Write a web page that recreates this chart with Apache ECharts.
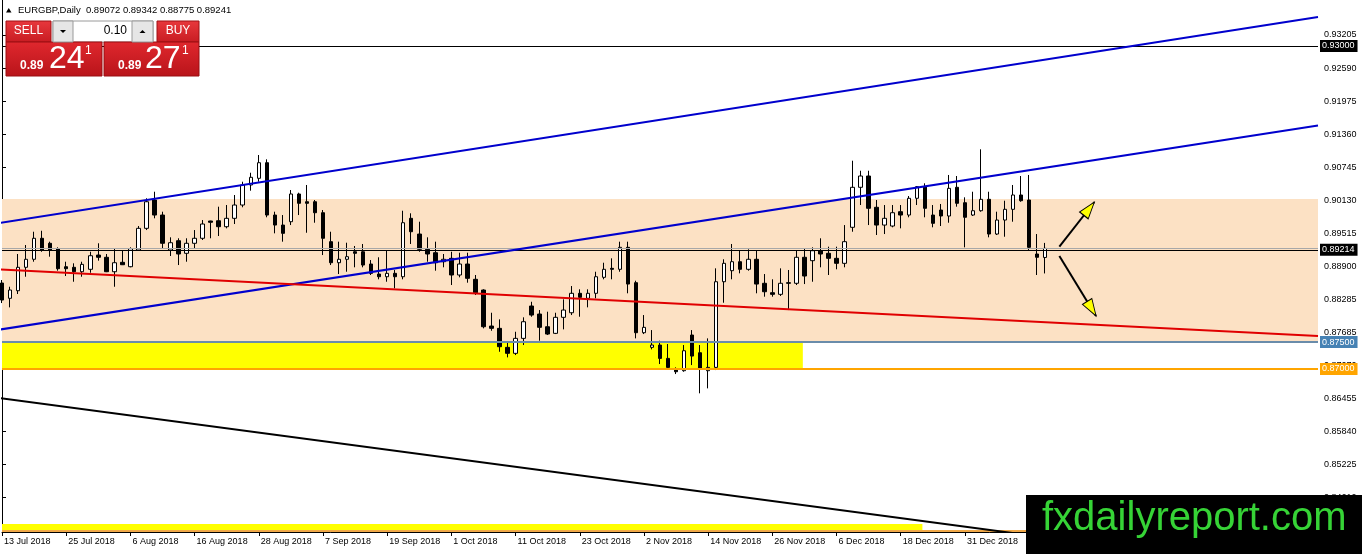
<!DOCTYPE html>
<html><head><meta charset="utf-8">
<script src="https://cdn.jsdelivr.net/npm/echarts@6/dist/echarts.min.js"></script>
<style>html,body{margin:0;padding:0;background:#fff}#c{width:1362px;height:554px}</style>
</head><body><div id="c"></div>
<script>
const dates = [
"13 Jul 2018","16 Jul 2018","17 Jul 2018","18 Jul 2018","19 Jul 2018","20 Jul 2018","23 Jul 2018","24 Jul 2018","25 Jul 2018","26 Jul 2018","27 Jul 2018","30 Jul 2018","31 Jul 2018",
"1 Aug 2018","2 Aug 2018","3 Aug 2018","6 Aug 2018","7 Aug 2018","8 Aug 2018","9 Aug 2018","10 Aug 2018","13 Aug 2018","14 Aug 2018","15 Aug 2018","16 Aug 2018","17 Aug 2018","20 Aug 2018","21 Aug 2018","22 Aug 2018","23 Aug 2018","24 Aug 2018","27 Aug 2018","28 Aug 2018","29 Aug 2018","30 Aug 2018","31 Aug 2018",
"3 Sep 2018","4 Sep 2018","5 Sep 2018","6 Sep 2018","7 Sep 2018","10 Sep 2018","11 Sep 2018","12 Sep 2018","13 Sep 2018","14 Sep 2018","17 Sep 2018","18 Sep 2018","19 Sep 2018","20 Sep 2018","21 Sep 2018","24 Sep 2018","25 Sep 2018","26 Sep 2018","27 Sep 2018","28 Sep 2018",
"1 Oct 2018","2 Oct 2018","3 Oct 2018","4 Oct 2018","5 Oct 2018","8 Oct 2018","9 Oct 2018","10 Oct 2018","11 Oct 2018","12 Oct 2018","15 Oct 2018","16 Oct 2018","17 Oct 2018","18 Oct 2018","19 Oct 2018","22 Oct 2018","23 Oct 2018","24 Oct 2018","25 Oct 2018","26 Oct 2018","29 Oct 2018","30 Oct 2018","31 Oct 2018",
"1 Nov 2018","2 Nov 2018","5 Nov 2018","6 Nov 2018","7 Nov 2018","8 Nov 2018","9 Nov 2018","12 Nov 2018","13 Nov 2018","14 Nov 2018","15 Nov 2018","16 Nov 2018","19 Nov 2018","20 Nov 2018","21 Nov 2018","22 Nov 2018","23 Nov 2018","26 Nov 2018","27 Nov 2018","28 Nov 2018","29 Nov 2018","30 Nov 2018",
"3 Dec 2018","4 Dec 2018","5 Dec 2018","6 Dec 2018","7 Dec 2018","10 Dec 2018","11 Dec 2018","12 Dec 2018","13 Dec 2018","14 Dec 2018","17 Dec 2018","18 Dec 2018","19 Dec 2018","20 Dec 2018","21 Dec 2018","24 Dec 2018","26 Dec 2018","27 Dec 2018","28 Dec 2018","31 Dec 2018",
"2 Jan 2019","3 Jan 2019","4 Jan 2019","7 Jan 2019","8 Jan 2019","9 Jan 2019","10 Jan 2019","11 Jan 2019","14 Jan 2019","15 Jan 2019"
];
const opens = [
0.88597,0.88313,0.88454,0.88889,0.89038,0.89428,0.89335,0.89234,0.88900,0.88889,
0.88807,0.88852,0.89117,0.89075,0.88807,0.88982,0.88900,0.89210,0.89613,0.90139,
0.89860,0.89210,0.89383,0.89149,0.89335,0.89428,0.89749,0.89754,0.89643,0.89799,
0.90046,0.90418,0.90542,0.90832,0.89860,0.89674,0.89736,0.90251,0.90107,0.90107,
0.89903,0.89365,0.88974,0.89038,0.89178,0.89178,0.88950,0.88764,0.88714,0.88777,
0.88714,0.89799,0.89507,0.89223,0.89160,0.88993,0.89056,0.88746,0.88950,0.88666,
0.88467,0.87798,0.87755,0.87402,0.87291,0.87569,0.88170,0.88021,0.87785,0.87662,
0.87960,0.88045,0.88406,0.88313,0.88406,0.88703,0.88870,0.88852,0.89260,0.88603,
0.87674,0.87402,0.87445,0.87197,0.86980,0.86968,0.87631,0.87302,0.86968,0.87030,
0.88621,0.88826,0.88993,0.88852,0.89038,0.88592,0.88417,0.88387,0.88603,0.88592,
0.89075,0.89012,0.89197,0.89149,0.89056,0.88963,0.89632,0.90375,0.90585,0.90004,
0.89674,0.89656,0.89922,0.89860,0.90171,0.90386,0.89860,0.89953,0.89842,0.90375,
0.90089,0.89860,0.89940,0.90152,0.89507,0.89767,0.89966,0.90232,0.90139,0.89136,
0.89072
];
const highs = [
0.88653,0.88528,0.89136,0.89303,0.89550,0.89568,0.89365,0.89260,0.88993,0.88963,
0.88993,0.89178,0.89335,0.89136,0.89242,0.89210,0.89260,0.89656,0.90171,0.90293,
0.89922,0.89446,0.89428,0.89428,0.89581,0.89767,0.89754,0.90015,0.90046,0.90232,
0.90479,0.90646,0.90975,0.90895,0.89922,0.89860,0.90325,0.90275,0.90418,0.90139,
0.89953,0.89550,0.89365,0.89346,0.89285,0.89322,0.89024,0.89075,0.89197,0.88839,
0.89940,0.89892,0.89736,0.89446,0.89365,0.89136,0.89178,0.89160,0.89160,0.88746,
0.88480,0.88045,0.87922,0.87507,0.87692,0.87960,0.88249,0.88095,0.88064,0.88045,
0.88294,0.88541,0.88480,0.88480,0.88807,0.88974,0.89056,0.89365,0.89365,0.88640,
0.88002,0.87723,0.87525,0.87464,0.87030,0.87445,0.87723,0.87445,0.87569,0.88870,
0.89038,0.89322,0.89197,0.89223,0.89197,0.88764,0.88666,0.88870,0.88839,0.89197,
0.89242,0.89260,0.89428,0.89272,0.89272,0.89674,0.90869,0.90683,0.90683,0.90139,
0.90046,0.90046,0.90046,0.90213,0.90399,0.90449,0.90046,0.90065,0.90604,0.90585,
0.90189,0.90293,0.91081,0.90293,0.89922,0.90126,0.90418,0.90585,0.90604,0.89507,
0.89342
];
const lows = [
0.88225,0.88145,0.88393,0.88714,0.88993,0.89178,0.89086,0.88826,0.88727,0.88621,
0.88714,0.88788,0.89012,0.88800,0.88528,0.88931,0.88889,0.89205,0.89581,0.89799,
0.89242,0.89099,0.88931,0.88993,0.89242,0.89396,0.89428,0.89470,0.89613,0.89693,
0.90004,0.90312,0.90479,0.89818,0.89520,0.89365,0.89674,0.89860,0.89531,0.89717,
0.89117,0.88931,0.88764,0.88807,0.88889,0.88889,0.88746,0.88666,0.88621,0.88498,
0.88666,0.89322,0.89178,0.88993,0.88826,0.88889,0.88560,0.88703,0.88603,0.88374,
0.87755,0.87710,0.87320,0.87216,0.87259,0.87445,0.87971,0.87525,0.87631,0.87649,
0.87736,0.88002,0.87971,0.88145,0.88313,0.88666,0.88666,0.88807,0.88406,0.87569,
0.87649,0.87365,0.87092,0.87025,0.86906,0.86949,0.87073,0.86548,0.86640,0.86980,
0.88231,0.88666,0.88777,0.88826,0.88406,0.88343,0.88343,0.88356,0.88095,0.88560,
0.88578,0.88621,0.88889,0.88746,0.88852,0.88889,0.89550,0.90046,0.89674,0.89489,
0.89507,0.89632,0.89613,0.89818,0.90046,0.89818,0.89632,0.89656,0.89717,0.90015,
0.89260,0.89842,0.89922,0.89446,0.89489,0.89457,0.89736,0.90107,0.89210,0.88746,
0.88775
];
const closes = [
0.88281,0.88467,0.88889,0.89038,0.89428,0.89210,0.89210,0.88863,0.88863,0.88807,
0.88944,0.89104,0.89075,0.88807,0.88974,0.88937,0.89234,0.89613,0.90107,0.89860,
0.89335,0.89346,0.89136,0.89335,0.89428,0.89693,0.89725,0.89643,0.89799,0.90046,
0.90418,0.90561,0.90832,0.89860,0.89674,0.89520,0.90251,0.90078,0.90078,0.89903,
0.89428,0.88974,0.89038,0.89086,0.89149,0.88931,0.88777,0.88714,0.88777,0.88714,
0.89717,0.89550,0.89223,0.89136,0.88974,0.89038,0.88746,0.88950,0.88684,0.88417,
0.87785,0.87755,0.87414,0.87291,0.87569,0.87878,0.88002,0.87774,0.87649,0.87960,
0.88095,0.88406,0.88331,0.88406,0.88714,0.88852,0.88852,0.89260,0.88578,0.87674,
0.87774,0.87445,0.87197,0.87030,0.86949,0.87339,0.87240,0.87012,0.87030,0.88621,
0.88963,0.88993,0.88852,0.89038,0.88578,0.88435,0.88387,0.88592,0.88592,0.89075,
0.88727,0.89197,0.89136,0.89056,0.88963,0.89365,0.90375,0.90585,0.89985,0.89674,
0.89799,0.89903,0.89860,0.90171,0.90386,0.89985,0.89706,0.89842,0.90356,0.90078,
0.89818,0.89940,0.90152,0.89507,0.89767,0.89966,0.90232,0.90126,0.89260,0.89075,
0.89241
];
const yTickLabels = [0.84610,0.85225,0.85840,0.86455,0.87070,0.87685,0.88285,0.88900,0.89515,0.90130,0.90745,0.91360,0.91975,0.92590,0.93205];

const levelRound = 0.93000;
const levelBid = 0.89214;
const levelLastClose = 0.89241;
const levelSupportTop = 0.87500;
const levelSupportBottom = 0.87000;
const levelLow = 0.84000;

const resistanceZone = [0.87500, 0.90160];
const supportZone = [0.87000, 0.87500];
const supportZoneEndBar = 99.8;
const lowerZone = [0.84000, 0.84120];
const lowerZoneEndBar = 114.7;

const channelUpper = [[-0.25, 0.89712], [164, 0.93539]];
const channelMiddle = [[-0.25, 0.87733], [164, 0.91523]];
const redTrend = [[-0.25, 0.88851], [164, 0.87612]];
const blackTrend = [[-0.25, 0.86460], [164, 0.83197]];
const arrowUp = [[131.77, 0.89272], [136.13, 0.90102]];
const arrowDown = [[131.77, 0.89099], [136.34, 0.87984]];
const arrowHeads = [[135.48, 0.89978], [135.79, 0.88120]];

const TOTAL_SLOTS = 165;
const Y_MIN = 0.83972, Y_MAX = 0.938545;
const FONT = 'Liberation Sans, Arial, sans-serif';

const categories = dates.concat(new Array(TOTAL_SLOTS - dates.length).fill(''));
const ohlc = dates.map((d, i) => [opens[i], closes[i], lows[i], highs[i]]);
const last = dates.length - 1;
const headerText = 'EURGBP,Daily  ' + [opens[last], highs[last], lows[last], closes[last]].map(v => v.toFixed(5)).join(' ');

function levelLabel(value, bg) {
  return {show: true, position: 'end', distance: 2, formatter: value.toFixed(5),
    color: '#fff', backgroundColor: bg, padding: [2, 3, 1, 2], fontSize: 9, fontFamily: FONT};
}
const redGrad = {type: 'linear', x: 0, y: 0, x2: 0, y2: 1, colorStops: [{offset: 0, color: '#E0282E'}, {offset: 1, color: '#B8141A'}]};
const btnGrad = {type: 'linear', x: 0, y: 0, x2: 0, y2: 1, colorStops: [{offset: 0, color: '#E8383D'}, {offset: 1, color: '#C81C22'}]};

const chart = echarts.init(document.getElementById('c'), null, {renderer: 'canvas'});
chart.setOption({
  animation: false,
  backgroundColor: '#ffffff',
  grid: {left: 2, right: 44, top: 0, bottom: 22},
  xAxis: [{
    type: 'category', data: categories, boundaryGap: false,
    axisLine: {show: true, onZero: false, lineStyle: {color: '#000', width: 1}},
    axisTick: {show: true, interval: 7, length: 4, lineStyle: {color: '#000'}},
    axisLabel: {show: true, interval: 7, align: 'left', margin: 5, padding: [0, 0, 0, 2], fontSize: 9, fontFamily: FONT, color: '#000'},
    splitLine: {show: false}
  }, {
    type: 'value', min: 0, max: TOTAL_SLOTS - 1, show: false
  }],
  yAxis: [{
    type: 'value', position: 'right', min: Y_MIN, max: Y_MAX,
    axisLine: {show: true, lineStyle: {color: '#000', width: 1}},
    axisTick: {show: true, length: 4, customValues: yTickLabels, lineStyle: {color: '#000'}},
    axisLabel: {show: true, customValues: yTickLabels, formatter: v => v.toFixed(5), fontSize: 9, fontFamily: FONT, color: '#000', margin: 6},
    splitLine: {show: false}
  }, {
    type: 'value', position: 'left', min: Y_MIN, max: Y_MAX,
    axisLine: {show: true, lineStyle: {color: '#000', width: 1}},
    axisTick: {show: false}, axisLabel: {show: false}, splitLine: {show: false}
  }],
  series: [
    {name: 'zones', type: 'line', xAxisIndex: 1, yAxisIndex: 0, data: [], z: 1, silent: true,
      markArea: {silent: true, data: [
        [{yAxis: resistanceZone[0], itemStyle: {color: '#FCE1C4', opacity: 1}}, {yAxis: resistanceZone[1]}],
        [{xAxis: 0, yAxis: supportZone[0], itemStyle: {color: '#FFFF00', opacity: 1}}, {xAxis: supportZoneEndBar, yAxis: supportZone[1]}],
        [{xAxis: 0, yAxis: lowerZone[0], itemStyle: {color: '#FFFF00', opacity: 1}}, {xAxis: lowerZoneEndBar, yAxis: lowerZone[1]}]
      ]}},
    {name: 'EURGBP', type: 'candlestick', xAxisIndex: 0, yAxisIndex: 0, data: ohlc, barWidth: 4, z: 3,
      itemStyle: {color: '#ffffff', color0: '#000000', borderColor: '#000000', borderColor0: '#000000', borderWidth: 1}},
    {name: 'levels', type: 'line', xAxisIndex: 1, yAxisIndex: 0, data: [], z: 4, silent: true,
      markLine: {silent: true, precision: 5, symbol: ['none', 'none'], animation: false, data: [
        {yAxis: levelRound, lineStyle: {color: '#000', width: 1, type: 'solid'}, label: levelLabel(levelRound, '#000')},
        {yAxis: levelLastClose, lineStyle: {color: '#A8A8A8', width: 1, type: 'solid'}, label: {show: false}},
        {yAxis: levelBid, lineStyle: {color: '#000', width: 1, type: 'solid'}, label: levelLabel(levelBid, '#000')},
        {yAxis: levelSupportTop, lineStyle: {color: '#6A8CAA', width: 2, type: 'solid'}, label: levelLabel(levelSupportTop, '#4682B4')},
        {yAxis: levelSupportBottom, lineStyle: {color: '#FFA500', width: 2, type: 'solid'}, label: levelLabel(levelSupportBottom, '#FFA500')},
        {yAxis: levelLow, lineStyle: {color: '#F0A848', width: 2, type: 'solid'}, label: {show: false}}
      ]}},
    {name: 'channelUpper', type: 'line', xAxisIndex: 1, yAxisIndex: 0, data: channelUpper, symbol: 'none', z: 5, silent: true, lineStyle: {color: '#0000CD', width: 2}},
    {name: 'channelMiddle', type: 'line', xAxisIndex: 1, yAxisIndex: 0, data: channelMiddle, symbol: 'none', z: 5, silent: true, lineStyle: {color: '#0000CD', width: 2}},
    {name: 'redTrend', type: 'line', xAxisIndex: 1, yAxisIndex: 0, data: redTrend, symbol: 'none', z: 5, silent: true, lineStyle: {color: '#E00000', width: 2}},
    {name: 'blackTrend', type: 'line', xAxisIndex: 1, yAxisIndex: 0, data: blackTrend, symbol: 'none', z: 5, silent: true, lineStyle: {color: '#000000', width: 2}},
    {name: 'arrowUp', type: 'line', xAxisIndex: 1, yAxisIndex: 0, data: arrowUp, symbol: 'none', z: 6, silent: true, lineStyle: {color: '#000000', width: 2}},
    {name: 'arrowDown', type: 'line', xAxisIndex: 1, yAxisIndex: 0, data: arrowDown, symbol: 'none', z: 6, silent: true, lineStyle: {color: '#000000', width: 2}},
    {name: 'arrowHeads', type: 'scatter', xAxisIndex: 1, yAxisIndex: 0, z: 7, silent: true,
      symbol: 'triangle', symbolSize: [11, 17],
      data: [{value: arrowHeads[0], symbolRotate: -38}, {value: arrowHeads[1], symbolRotate: -148.5}],
      itemStyle: {color: '#FFFF00', borderColor: '#000', borderWidth: 1, opacity: 1}}
  ],
  graphic: [
    {type: 'polygon', z: 100, shape: {points: [[6, 12.5], [11.5, 12.5], [8.75, 8]]}, style: {fill: '#000'}},
    {type: 'text', z: 100, x: 18, y: 10, style: {text: headerText, fill: '#000', font: '9.5px ' + FONT, verticalAlign: 'middle', textVerticalAlign: 'middle'}},
    {type: 'rect', z: 100, shape: {x: 6, y: 21, width: 45, height: 21}, style: {fill: btnGrad, stroke: '#A01015', lineWidth: 1}},
    {type: 'text', z: 101, x: 28.5, y: 31, style: {text: 'SELL', fill: '#fff', font: '12px ' + FONT, align: 'center', textAlign: 'center', verticalAlign: 'middle', textVerticalAlign: 'middle'}},
    {type: 'rect', z: 100, shape: {x: 53, y: 21, width: 100, height: 21}, style: {fill: '#fff', stroke: '#9A9A9A', lineWidth: 1}},
    {type: 'rect', z: 101, shape: {x: 53, y: 21, width: 20, height: 21}, style: {fill: '#E6E6E6', stroke: '#9A9A9A', lineWidth: 1}},
    {type: 'rect', z: 101, shape: {x: 132, y: 21, width: 21, height: 21}, style: {fill: '#E6E6E6', stroke: '#9A9A9A', lineWidth: 1}},
    {type: 'polygon', z: 102, shape: {points: [[60, 30], [66, 30], [63, 33]]}, style: {fill: '#000'}},
    {type: 'polygon', z: 102, shape: {points: [[139.5, 33], [145.5, 33], [142.5, 30]]}, style: {fill: '#000'}},
    {type: 'text', z: 101, x: 127, y: 30.5, style: {text: '0.10', fill: '#000', font: '12px ' + FONT, align: 'right', textAlign: 'right', verticalAlign: 'middle', textVerticalAlign: 'middle'}},
    {type: 'rect', z: 100, shape: {x: 157, y: 21, width: 42, height: 21}, style: {fill: btnGrad, stroke: '#A01015', lineWidth: 1}},
    {type: 'text', z: 101, x: 178, y: 31, style: {text: 'BUY', fill: '#fff', font: '12px ' + FONT, align: 'center', textAlign: 'center', verticalAlign: 'middle', textVerticalAlign: 'middle'}},
    {type: 'rect', z: 100, shape: {x: 6, y: 42, width: 96, height: 34}, style: {fill: redGrad, stroke: '#9A0E12', lineWidth: 1}},
    {type: 'rect', z: 100, shape: {x: 104, y: 42, width: 95, height: 34}, style: {fill: redGrad, stroke: '#9A0E12', lineWidth: 1}},
    {type: 'text', z: 101, x: 20, y: 66, style: {text: '0.89', fill: '#fff', font: 'bold 12px ' + FONT, verticalAlign: 'middle', textVerticalAlign: 'middle'}},
    {type: 'text', z: 101, x: 49, y: 59, style: {text: '24', fill: '#fff', font: '32px ' + FONT, verticalAlign: 'middle', textVerticalAlign: 'middle'}},
    {type: 'text', z: 101, x: 85, y: 51, style: {text: '1', fill: '#fff', font: '12px ' + FONT, verticalAlign: 'middle', textVerticalAlign: 'middle'}},
    {type: 'text', z: 101, x: 118, y: 66, style: {text: '0.89', fill: '#fff', font: 'bold 12px ' + FONT, verticalAlign: 'middle', textVerticalAlign: 'middle'}},
    {type: 'text', z: 101, x: 145, y: 59, style: {text: '27', fill: '#fff', font: '32px ' + FONT, verticalAlign: 'middle', textVerticalAlign: 'middle'}},
    {type: 'text', z: 101, x: 182, y: 51, style: {text: '1', fill: '#fff', font: '12px ' + FONT, verticalAlign: 'middle', textVerticalAlign: 'middle'}},
    {type: 'rect', z: 110, shape: {x: 1026, y: 495, width: 336, height: 59}, style: {fill: '#000'}},
    {type: 'text', z: 111, x: 1042, y: 519, style: {text: 'fxdailyreport.com', fill: '#36D336', font: '40px ' + FONT, verticalAlign: 'middle', textVerticalAlign: 'middle'}}
  ]
});
</script></body></html>
